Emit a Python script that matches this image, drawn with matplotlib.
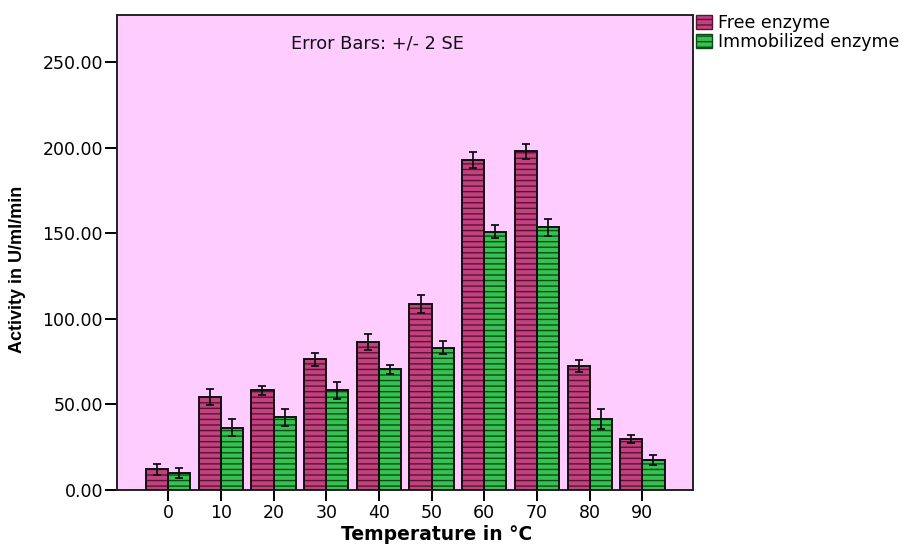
import matplotlib
matplotlib.use("Agg")
import matplotlib.pyplot as plt
import numpy as np
from matplotlib.patches import Patch

categories = ["0", "10", "20", "30", "40", "50", "60", "70", "80", "90"]
free_vals = [12.1, 54.1, 58.2, 76.5, 86.4, 108.5, 192.8, 197.8, 72.6, 30.0]
free_err = [3.2, 4.7, 2.8, 3.8, 4.7, 5.2, 4.4, 4.3, 3.5, 2.4]
imm_vals = [9.9, 36.4, 42.4, 58.2, 70.5, 83.1, 151.0, 153.4, 41.3, 17.7]
imm_err = [3.0, 5.0, 5.0, 4.8, 2.5, 3.8, 4.0, 5.0, 5.8, 2.9]
yticks = [0, 50, 100, 150, 200, 250]
series_names = ["Free enzyme", "Immobilized enzyme"]

free_face = "#C2417F"
free_hatch = "#5A1233"
imm_face = "#35C251"
imm_hatch = "#0B4A17"

plt.rcParams['font.family'] = ['DejaVu Sans']
plt.rcParams['hatch.linewidth'] = 1.0

fig = plt.figure(figsize=(9.11, 5.44), dpi=100)
ax = fig.add_axes([117/911, 1-490/544, 576/911, 475/544])
ax.set_facecolor("#FFCCFF")

x = np.arange(len(categories))
w = 0.42

for vals, errs, face, hc, off in [(free_vals, free_err, free_face, free_hatch, -w/2),
                                   (imm_vals, imm_err, imm_face, imm_hatch, w/2)]:
    ax.bar(x + off, vals, width=w, color=face, edgecolor=hc, hatch="---", linewidth=0, zorder=2)
    ax.bar(x + off, vals, width=w, fill=False, edgecolor="#111111", linewidth=1.4, zorder=3)
    ax.errorbar(x + off, vals, yerr=errs, fmt="none", ecolor="#111111", elinewidth=1.3,
                capsize=2.8, capthick=1.3, zorder=4)

ax.set_xlim(-0.97, 9.96)
ax.set_ylim(0, 277.5)
ax.set_xticks(x)
ax.set_xticklabels(categories, fontsize=12.5)
ax.set_yticks(yticks)
ax.set_yticklabels([f"{v:.2f}" for v in yticks], fontsize=12.5)
ax.tick_params(axis="y", length=9, width=1.4, direction="out", pad=1)
ax.tick_params(axis="x", length=8, width=1.4, direction="out", pad=2)
for s in ax.spines.values():
    s.set_linewidth(1.4)
    s.set_color("#222222")

fig.text(437/911, 1-534/544, "Temperature in °C", fontsize=13.5, fontweight="bold",
         ha="center", va="center", family=['DejaVu Sans'])
ax.set_ylabel("Activity in U/ml/min", fontsize=13, fontweight="bold",
              family=['Liberation Sans Narrow', 'Liberation Sans', 'DejaVu Sans'])
ax.yaxis.set_label_coords(-0.158, 0.465)

ax.text(0.452, 0.94, "Error Bars: +/- 2 SE", transform=ax.transAxes, fontsize=12.8,
        ha="center", va="center", color="#111111")

handles = [Patch(facecolor=free_face, edgecolor=free_hatch, hatch="---"),
           Patch(facecolor=imm_face, edgecolor=imm_hatch, hatch="---")]
leg = fig.legend(handles, series_names, loc="upper left", bbox_to_anchor=(696/911, 1-14/544),
                 frameon=False, fontsize=12.5, handlelength=0.9, handleheight=0.9,
                 handletextpad=0.35, labelspacing=0.05, borderaxespad=0, borderpad=0)

fig.savefig("out.png", dpi=100)
